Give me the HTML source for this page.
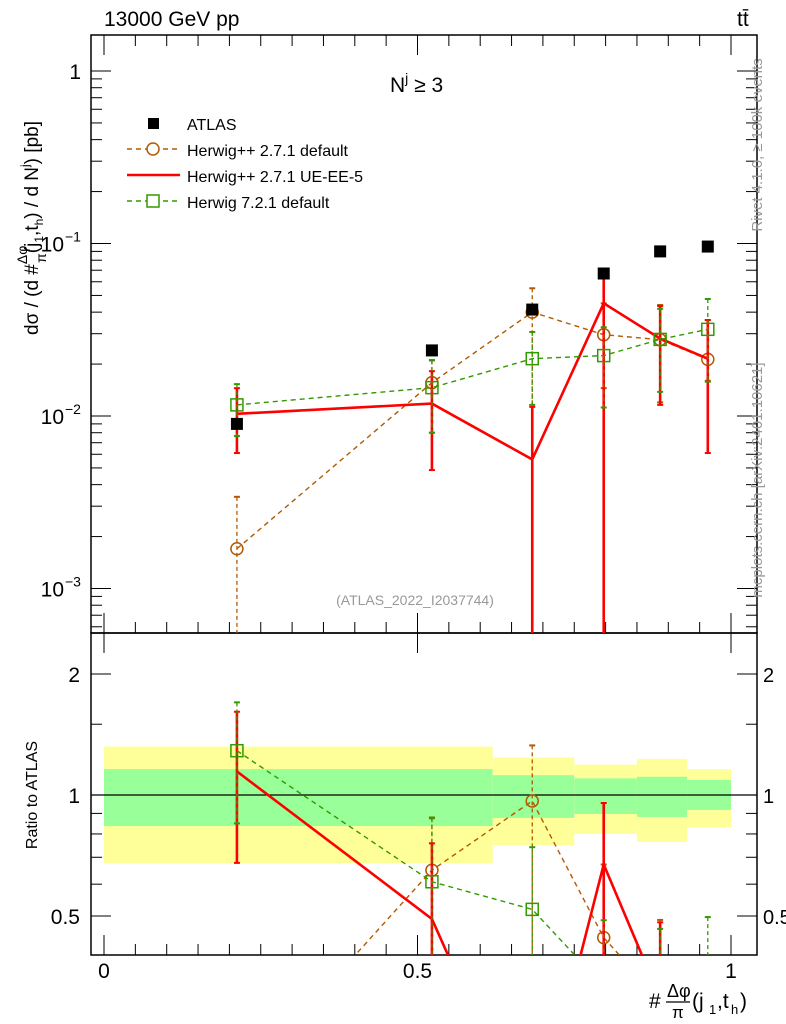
<!DOCTYPE html>
<html><head><meta charset="utf-8"><style>
html,body{margin:0;padding:0;background:#fff;width:786px;height:1024px;overflow:hidden;position:relative}
svg{display:block;font-family:"Liberation Sans",sans-serif}
</style></head><body>
<svg id="c" width="786" height="1024" viewBox="0 0 786 1024" xmlns="http://www.w3.org/2000/svg"></svg>
<script>
const xs = [0.212, 0.523, 0.683, 0.797, 0.887, 0.963];
const atlas = [0.0090, 0.024, 0.0414, 0.067, 0.090, 0.096];
const hppDef = [0.0017, 0.0156, 0.040, 0.0296, 0.0277, 0.0213];
const hppDefUp = [0.0034, 0.021, 0.055, 0.045, 0.044, 0.036];
const hppDefLo = [0.0001, 0.008, 0.0001, 0.0145, 0.012, 0.016];
const hppUE = [0.0103, 0.0118, 0.0056, 0.045, 0.0281, 0.0215];
const hppUEUp = [0.0145, 0.0182, 0.0113, 0.064, 0.0434, 0.036];
const hppUELo = [0.0061, 0.00486, 0.0001, 0.0001, 0.0116, 0.0061];
const h7 = [0.0116, 0.0146, 0.0215, 0.0224, 0.0278, 0.0318];
const h7Up = [0.0153, 0.0211, 0.0307, 0.0327, 0.0418, 0.0477];
const h7Lo = [0.00765, 0.0080, 0.0116, 0.0112, 0.0138, 0.0158];
const bandEdges = [0, 0.429, 0.62, 0.75, 0.85, 0.93, 1.0];
const yelUp = [1.32, 1.32, 1.24, 1.19, 1.23, 1.16];
const grnUp = [1.16, 1.16, 1.12, 1.10, 1.11, 1.09];
const grnLo = [0.837, 0.837, 0.877, 0.897, 0.882, 0.918];
const yelLo = [0.677, 0.677, 0.751, 0.80, 0.764, 0.832];

const svg = document.getElementById('c');
const NS = 'http://www.w3.org/2000/svg';
function el(tag, attrs, parent){const e=document.createElementNS(NS,tag);for(const k in attrs)e.setAttribute(k,attrs[k]);(parent||svg).appendChild(e);return e;}
const L=91,R=757,T=35,M=633,B=955;
const X = v => 104 + v*627;
const Y = v => 71 - Math.log10(v)*172.5;
const YR = r => 795 - Math.log2(r)*121;

const defs = el('defs',{});
const c1 = el('clipPath',{id:'cm'},defs); el('rect',{x:L,y:T,width:R-L,height:M-T},c1);
const c2 = el('clipPath',{id:'cr'},defs); el('rect',{x:L,y:M,width:R-L,height:B-M},c2);

const bandG = el('g',{'clip-path':'url(#cr)'});


for(let i=0;i<yelUp.length;i++){
  const x0=X(bandEdges[i]), x1=X(bandEdges[i+1]);
  const y1=el('rect',{x:x0,y:YR(yelUp[i]),width:x1-x0,height:YR(yelLo[i])-YR(yelUp[i]),fill:'#ffff99'},bandG);
  
  
  const g1=el('rect',{x:x0,y:YR(grnUp[i]),width:x1-x0,height:YR(grnLo[i])-YR(grnUp[i]),fill:'#99ff99'},bandG);
  
  
}
el('line',{x1:L,x2:R,y1:795,y2:795,stroke:'#000','stroke-width':1.2});

const f1=el('rect',{x:L,y:T,width:R-L,height:M-T,fill:'none',stroke:'#000','stroke-width':1.5});


const f2=el('rect',{x:L,y:M,width:R-L,height:B-M,fill:'none',stroke:'#000','stroke-width':1.5});



for(let k=0;k<=20;k++){
  const x=X(k*0.05), big=(k%10===0), len=big?20:11;
  for(const [yb,dir] of [[M,-1],[T,1],[B,-1]]){
    el('line',{x1:x,x2:x,y1:yb,y2:yb+dir*len,stroke:'#000','stroke-width':1});
  }
  if(big) el('line',{x1:x,x2:x,y1:M,y2:M+20,stroke:'#000'});
}
[[0,'0'],[0.5,'0.5'],[1,'1']].forEach(([v,t])=>{
  const e=el('text',{x:X(v),y:978,'font-size':21,'text-anchor':'middle'});e.textContent=t;
  
  
});
for(let d=-4; d<=0; d++){
  for(let m=1;m<=9;m++){
    const v=m*Math.pow(10,d), y=Y(v);
    if(y<T||y>M) continue;
    const len=m===1?20:11;
    el('line',{x1:L,x2:L+len,y1:y,y2:y,stroke:'#000'});
    el('line',{x1:R,x2:R-len,y1:y,y2:y,stroke:'#000'});
  }
}
[[0,'1',null],[-1,'10','−1'],[-2,'10','−2'],[-3,'10','−3']].forEach(([d,b,s])=>{
  const e=el('text',{x:s?64:81,y:Y(Math.pow(10,d))+8,'font-size':21,'text-anchor':'end'});
  e.textContent=b;
  
  
  if(s){const t=el('text',{x:65,y:Y(Math.pow(10,d))-2,'font-size':14});t.textContent=s;}
});
[0.5,0.6,0.7,0.8,0.9,1,1.5,2].forEach(v=>{
  const y=YR(v), big=(v===0.5||v===1||v===2), len=big?20:11;
  el('line',{x1:L,x2:L+len,y1:y,y2:y,stroke:'#000'});
  el('line',{x1:R,x2:R-len,y1:y,y2:y,stroke:'#000'});
});
[[2,'2'],[1,'1'],[0.5,'0.5']].forEach(([v,t])=>{
  const a=el('text',{x:80,y:YR(v)+8,'font-size':21,'text-anchor':'end'});a.textContent=t;
  
  
  const b=el('text',{x:763,y:YR(v)+8,'font-size':20});b.textContent=t;
  
  
});

const series = [
  {name:'herwigpp-default',v:hppDef,up:hppDefUp,lo:hppDefLo,col:'#b35900',dash:'5,4',w:1.4,mk:'circle'},
  {name:'herwigpp-ue-ee-5',v:hppUE,up:hppUEUp,lo:hppUELo,col:'#ff0000',dash:null,w:2.6,mk:null},
  {name:'herwig7-default',v:h7,up:h7Up,lo:h7Lo,col:'#339900',dash:'5,4',w:1.4,mk:'square'}
];
function marker(g,mk,x,y,col){
  if(mk==='circle') el('circle',{cx:x,cy:y,r:6,fill:'none',stroke:col,'stroke-width':1.5},g);
  if(mk==='square') el('rect',{x:x-6,y:y-6,width:12,height:12,fill:'none',stroke:col,'stroke-width':1.5},g);
}
series.forEach(s=>{
  const g=el('g',{'clip-path':'url(#cm)'});
  
  
  const pts=xs.map((x,i)=>X(x)+','+Y(s.v[i])).join(' ');
  const pl=el('polyline',{points:pts,fill:'none',stroke:s.col,'stroke-width':s.w},g);
  if(s.dash) pl.setAttribute('stroke-dasharray',s.dash);
  xs.forEach((x,i)=>{
    const ln=el('line',{x1:X(x),x2:X(x),y1:Y(s.up[i]),y2:Y(s.lo[i]),stroke:s.col,'stroke-width':s.mk?1.3:2.6},g);
    if(s.dash) ln.setAttribute('stroke-dasharray','4,3');
    el('line',{x1:X(x)-3,x2:X(x)+3,y1:Y(s.up[i]),y2:Y(s.up[i]),stroke:s.col,'stroke-width':2},g);
    el('line',{x1:X(x)-3,x2:X(x)+3,y1:Y(s.lo[i]),y2:Y(s.lo[i]),stroke:s.col,'stroke-width':2},g);
    marker(g,s.mk,X(x),Y(s.v[i]),s.col);
  });
  const gr=el('g',{'clip-path':'url(#cr)'});
  
  
  const rp=xs.map((x,i)=>X(x)+','+YR(s.v[i]/atlas[i])).join(' ');
  const rl=el('polyline',{points:rp,fill:'none',stroke:s.col,'stroke-width':s.w},gr);
  if(s.dash) rl.setAttribute('stroke-dasharray',s.dash);
  xs.forEach((x,i)=>{
    const u=YR(s.up[i]/atlas[i]), l=YR(s.lo[i]/atlas[i]);
    const ln=el('line',{x1:X(x),x2:X(x),y1:u,y2:l,stroke:s.col,'stroke-width':s.mk?1.3:2.6},gr);
    if(s.dash) ln.setAttribute('stroke-dasharray','4,3');
    el('line',{x1:X(x)-3,x2:X(x)+3,y1:u,y2:u,stroke:s.col,'stroke-width':2},gr);
    el('line',{x1:X(x)-3,x2:X(x)+3,y1:l,y2:l,stroke:s.col,'stroke-width':2},gr);
    marker(gr,s.mk,X(x),YR(s.v[i]/atlas[i]),s.col);
  });
});
atlas.forEach((v,i)=>{
  const r=el('rect',{x:X(xs[i])-6,y:Y(v)-6,width:12,height:12,fill:'#000'});
  
  
});

const leg=el('g',{});


el('rect',{x:148,y:118,width:11,height:11,fill:'#000'},leg);
el('line',{x1:127,x2:180,y1:149,y2:149,stroke:'#b35900','stroke-width':1.4,'stroke-dasharray':'5,4'},leg);
el('circle',{cx:153,cy:149,r:6,fill:'#fff',stroke:'#b35900','stroke-width':1.5},leg);
el('line',{x1:127,x2:180,y1:175,y2:175,stroke:'#ff0000','stroke-width':2.6},leg);
el('line',{x1:127,x2:180,y1:201,y2:201,stroke:'#339900','stroke-width':1.4,'stroke-dasharray':'5,4'},leg);
el('rect',{x:147,y:195,width:12,height:12,fill:'#fff',stroke:'#339900','stroke-width':1.5},leg);
[['ATLAS',130],['Herwig++ 2.7.1 default',156],['Herwig++ 2.7.1 UE-EE-5',182],['Herwig 7.2.1 default',208]].forEach(([t,y])=>{
  const e=el('text',{x:187,y:y,'font-size':16},leg);e.textContent=t;
  
  
});
</script>
<svg width="786" height="1024" style="position:absolute;left:0;top:0" xmlns="http://www.w3.org/2000/svg" font-family="Liberation Sans, sans-serif">
<text x="104" y="26" font-size="21">13000 GeV pp</text>
<text x="737" y="26" font-size="21">tt̄</text>
<text x="390" y="92" font-size="21">N<tspan font-size="14" dy="-9">j</tspan><tspan dy="9"> ≥ 3</tspan></text>
<text x="415" y="605" font-size="14" fill="#999" text-anchor="middle">(ATLAS_2022_I2037744)</text>
<text transform="translate(762,145) rotate(-90)" font-size="15" fill="#999" text-anchor="middle">Rivet 4.1.0, ≥ 100k events</text>
<text transform="translate(762,480) rotate(-90)" font-size="15" fill="#999" text-anchor="middle">mcplots.cern.ch [arXiv:2401.10621]</text>
<text transform="translate(38,335) rotate(-90)" font-size="19">dσ / (d #<tspan font-size="14" dy="-11">Δφ</tspan><tspan dx="-17" dy="19" font-size="14">π</tspan><tspan dy="-8">(j</tspan><tspan font-size="12" dy="5">1</tspan><tspan dy="-5">,t</tspan><tspan font-size="12" dy="5">h</tspan><tspan dy="-5">) / d N</tspan><tspan font-size="12" dy="-9">j</tspan><tspan dy="9">) [pb]</tspan></text>
<text transform="translate(37,795) rotate(-90)" font-size="16" text-anchor="middle">Ratio to ATLAS</text>
<g font-size="21">
<text x="649" y="1008">#</text>
<text x="667" y="997" font-size="18">Δφ</text>
<line x1="666" y1="1002" x2="690" y2="1002" stroke="#000" stroke-width="1.2"/>
<text x="672" y="1018" font-size="17">π</text>
<text x="692" y="1008">(j</text>
<text x="709" y="1014" font-size="13">1</text>
<text x="717" y="1008">,t</text>
<text x="731" y="1014" font-size="13">h</text>
<text x="740" y="1008">)</text>
</g>
</svg>
</body></html>
